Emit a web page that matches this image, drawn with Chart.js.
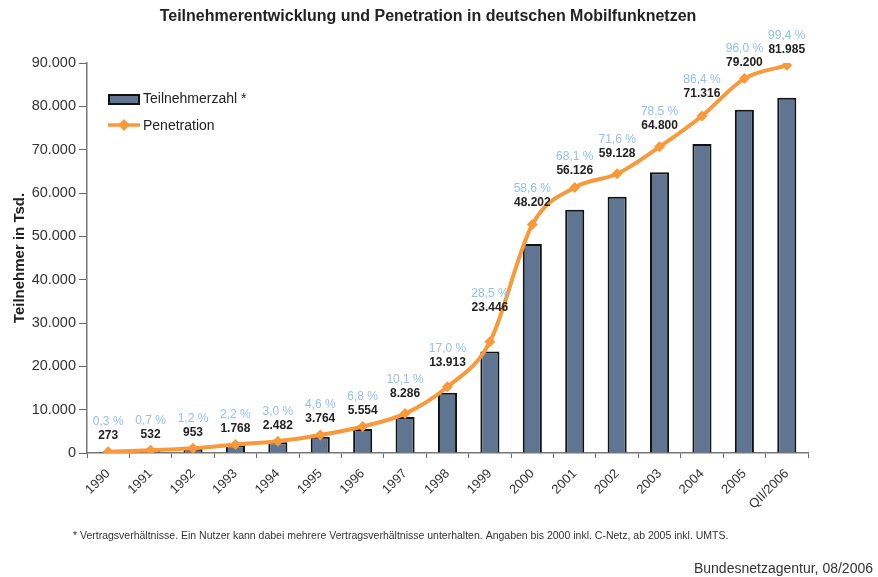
<!DOCTYPE html>
<html>
<head>
<meta charset="utf-8">
<script src="https://cdn.jsdelivr.net/npm/chart.js@4"></script>
<style>
  html, body { margin: 0; padding: 0; background: #fff; }
  #wrap { width: 878px; height: 577px; }
</style>
</head>
<body>
<div id="wrap"><canvas id="myChart1" width="878" height="577"></canvas></div>
<script>
const years = ['1990', '1991', '1992', '1993', '1994', '1995', '1996', '1997', '1998',
  '1999', '2000', '2001', '2002', '2003', '2004', '2005', 'QII/2006'];
const teilnehmer = [273, 532, 953, 1768, 2482, 3764, 5554, 8286, 13913,
  23446, 48202, 56126, 59128, 64800, 71316, 79200, 81985];
const penetration = [0.3, 0.7, 1.2, 2.2, 3.0, 4.6, 6.8, 10.1, 17.0,
  28.5, 58.6, 68.1, 71.6, 78.5, 86.4, 96.0, 99.4];

const FONT = "'Liberation Sans', Arial, sans-serif";
const BAR = '#5f7591';
const ORANGE = '#f8993c';

function dots(v) {
  return String(v).replace(/\B(?=(\d{3})+(?!\d))/g, '.');
}

// labels above line points, title, legend, footnotes
const extras = {
  id: 'extras',
  afterDatasetsDraw(chart) {
    const ctx = chart.ctx;
    const meta = chart.getDatasetMeta(1);
    ctx.save();
    ctx.textAlign = 'center';
    ctx.textBaseline = 'middle';
    meta.data.forEach((pt, i) => {
      // push labels up a bit where the line climbs steeply
      let lift = 0;
      const next = meta.data[i + 1];
      if (next) lift = Math.min(18, Math.max(0, (pt.y - next.y) - 12) * 0.25);
      ctx.font = 'bold 12px ' + FONT;
      ctx.fillStyle = '#222';
      ctx.fillText(dots(teilnehmer[i]), pt.x, pt.y - 16 - lift);
      ctx.font = '12px ' + FONT;
      ctx.fillStyle = '#93bfee';
      ctx.fillText(penetration[i].toFixed(1).replace('.', ',') + ' %', pt.x, pt.y - 30 - lift);
    });
    ctx.restore();
  },
  afterDraw(chart) {
    const ctx = chart.ctx;
    ctx.save();
    ctx.fillStyle = '#222';
    ctx.textBaseline = 'middle';
    ctx.textAlign = 'center';
    ctx.font = 'bold 16px ' + FONT;
    ctx.fillText('Teilnehmerentwicklung und Penetration in deutschen Mobilfunknetzen', 428, 17);

    // legend
    ctx.fillStyle = BAR;
    ctx.fillRect(109, 95, 30, 9);
    ctx.strokeStyle = '#111';
    ctx.lineWidth = 2;
    ctx.strokeRect(109, 95, 30, 9);
    ctx.strokeStyle = ORANGE;
    ctx.lineWidth = 3.5;
    ctx.beginPath();
    ctx.moveTo(108, 125);
    ctx.lineTo(140, 125);
    ctx.stroke();
    ctx.fillStyle = ORANGE;
    ctx.beginPath();
    ctx.moveTo(124, 119);
    ctx.lineTo(130, 125);
    ctx.lineTo(124, 131);
    ctx.lineTo(118, 125);
    ctx.closePath();
    ctx.fill();
    ctx.fillStyle = '#222';
    ctx.textAlign = 'left';
    ctx.font = '14px ' + FONT;
    ctx.fillText('Teilnehmerzahl *', 143, 99);
    ctx.fillText('Penetration', 143, 126);

    // footnotes
    ctx.font = '10.5px ' + FONT;
    ctx.fillStyle = '#333';
    ctx.fillText('* Vertragsverhältnisse. Ein Nutzer kann dabei mehrere Vertragsverhältnisse unterhalten. Angaben bis 2000 inkl. C-Netz, ab 2005 inkl. UMTS.', 73, 536);
    ctx.textAlign = 'right';
    ctx.font = '14px ' + FONT;
    ctx.fillText('Bundesnetzagentur, 08/2006', 873, 569);
    ctx.restore();
  }
};

const ctx = document.getElementById('myChart1').getContext('2d');
const myChart = new Chart(ctx, {
  type: 'bar',
  data: {
    labels: years,
    datasets: [{
      type: 'bar',
      label: 'Teilnehmerzahl *',
      data: teilnehmer,
      backgroundColor: BAR,
      borderColor: '#111',
      borderWidth: 2,
      categoryPercentage: 1,
      barPercentage: 0.45,
      yAxisID: 'y',
      order: 1
    }, {
      type: 'line',
      label: 'Penetration',
      data: penetration,
      borderColor: ORANGE,
      backgroundColor: ORANGE,
      borderWidth: 4,
      cubicInterpolationMode: 'monotone',
      pointStyle: 'rectRot',
      pointRadius: 5.5,
      pointBorderWidth: 0,
      fill: false,
      yAxisID: 'p',
      order: 0
    }]
  },
  options: {
    responsive: false,
    animation: false,
    layout: { padding: { top: 63, right: 70, left: 0, bottom: 0 } },
    plugins: {
      legend: { display: false },
      tooltip: { enabled: false }
    },
    scales: {
      x: {
        grid: { offset: true, drawOnChartArea: false, drawTicks: true, tickLength: 5, color: '#666' },
        border: { color: '#777', width: 1.5 },
        ticks: { maxRotation: 45, minRotation: 45, color: '#333', font: { family: FONT, size: 13 }, padding: 8 },
        afterFit(s) { s.height = 124; }
      },
      y: {
        position: 'left',
        min: 0,
        max: 90000,
        ticks: {
          stepSize: 10000,
          color: '#333',
          font: { family: FONT, size: 14.5 },
          padding: 3,
          callback: v => dots(v)
        },
        grid: { drawOnChartArea: false, drawTicks: true, tickLength: 8, color: '#666' },
        border: { color: '#777', width: 1.5 },
        title: { display: true, text: 'Teilnehmer in Tsd.', color: '#222', font: { family: FONT, size: 15, weight: 'bold' }, padding: { top: 11, bottom: 0 } },
        afterFit(s) { s.width = 87; }
      },
      p: {
        display: false,
        min: 0,
        max: 100
      }
    }
  },
  plugins: [extras]
});
</script>
</body>
</html>
